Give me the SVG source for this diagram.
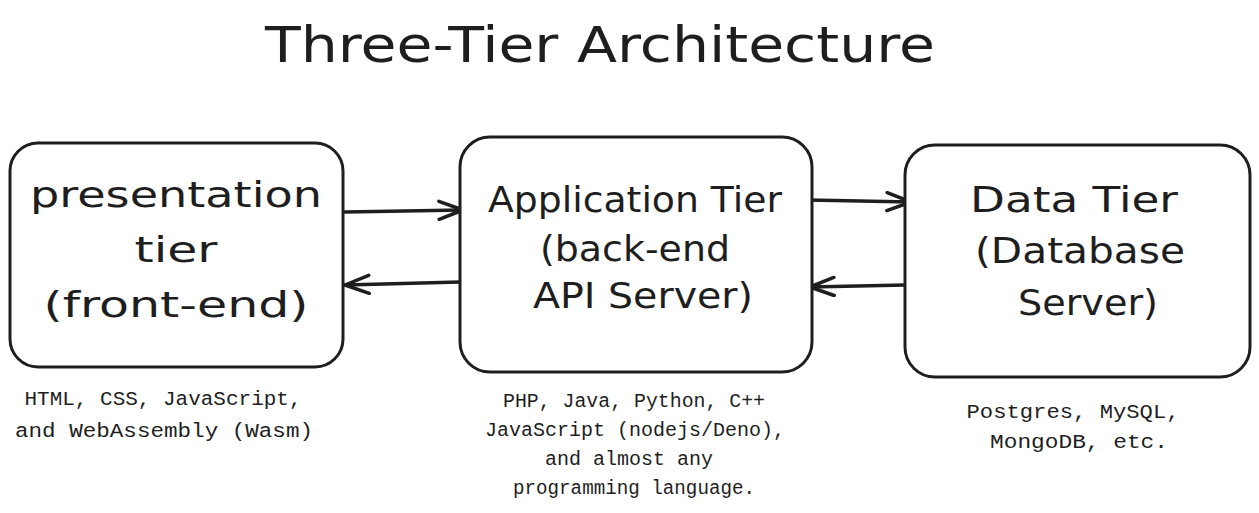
<svg xmlns="http://www.w3.org/2000/svg" width="1259" height="513" viewBox="0 0 1259 513">
  <style>
    .box { fill: #ffffff; stroke: #1e1e1e; stroke-width: 3; }
    .lbl { font-family: "DejaVu Sans", "Liberation Sans", sans-serif; font-size: 36px; fill: #1e1e1e; text-anchor: middle; }
    .title { font-family: "DejaVu Sans", "Liberation Sans", sans-serif; font-size: 50px; fill: #1e1e1e; text-anchor: middle; }
    .note { font-family: "Liberation Mono", "DejaVu Sans Mono", monospace; font-size: 20px; fill: #1e1e1e; text-anchor: middle; }
    .conn { fill: none; stroke: #1e1e1e; stroke-width: 3.5; stroke-linecap: round; }
  </style>
  <defs>
    <marker id="arrow" viewBox="0 0 28 22" refX="26" refY="11" markerWidth="28" markerHeight="22" markerUnits="userSpaceOnUse" orient="auto">
      <path d="M2,2 L26,11 L2,20" fill="none" stroke="#1e1e1e" stroke-width="3.5" stroke-linecap="round" stroke-linejoin="round"/>
    </marker>
  </defs>
  <rect width="1259" height="513" fill="#ffffff"/>

  <text id="title" class="title" x="600" y="62" textLength="670" lengthAdjust="spacingAndGlyphs">Three-Tier Architecture</text>

  <g id="connectors">
    <path class="conn" d="M345,212 L463,210" marker-end="url(#arrow)"/>
    <path class="conn" d="M460,282 L345,285" marker-end="url(#arrow)"/>
    <path class="conn" d="M808,200 L911,202" marker-end="url(#arrow)"/>
    <path class="conn" d="M905,285 L810,287" marker-end="url(#arrow)"/>
  </g>

  <g id="presentation-tier">
    <rect class="box" x="10" y="143" width="333" height="224" rx="28"/>
    <text class="lbl" x="176" y="207" textLength="292" lengthAdjust="spacingAndGlyphs">presentation</text>
    <text class="lbl" x="176" y="262" textLength="83" lengthAdjust="spacingAndGlyphs">tier</text>
    <text class="lbl" x="176" y="317" textLength="265" lengthAdjust="spacingAndGlyphs">(front-end)</text>
  </g>

  <g id="application-tier">
    <rect class="box" x="460" y="137" width="352" height="235" rx="30"/>
    <text class="lbl" x="635" y="212" textLength="294" lengthAdjust="spacingAndGlyphs">Application Tier</text>
    <text class="lbl" x="635" y="261" textLength="190" lengthAdjust="spacingAndGlyphs">(back-end</text>
    <text class="lbl" x="643" y="308" textLength="220" lengthAdjust="spacingAndGlyphs">API Server)</text>
  </g>

  <g id="data-tier">
    <rect class="box" x="905" y="145" width="345" height="232" rx="30"/>
    <text class="lbl" x="1074" y="212" textLength="208" lengthAdjust="spacingAndGlyphs">Data Tier</text>
    <text class="lbl" x="1080" y="263" textLength="210" lengthAdjust="spacingAndGlyphs">(Database</text>
    <text class="lbl" x="1088" y="315" textLength="140" lengthAdjust="spacingAndGlyphs">Server)</text>
  </g>

  <g id="presentation-note">
    <text class="note" x="163" y="405" textLength="277" lengthAdjust="spacingAndGlyphs">HTML, CSS, JavaScript,</text>
    <text class="note" x="164" y="437" textLength="298" lengthAdjust="spacingAndGlyphs">and WebAssembly (Wasm)</text>
  </g>

  <g id="application-note">
    <text class="note" x="634" y="407" textLength="262" lengthAdjust="spacingAndGlyphs">PHP, Java, Python, C++</text>
    <text class="note" x="635" y="436" textLength="300" lengthAdjust="spacingAndGlyphs">JavaScript (nodejs/Deno),</text>
    <text class="note" x="629" y="465" textLength="168" lengthAdjust="spacingAndGlyphs">and almost any</text>
    <text class="note" x="634" y="494" textLength="242" lengthAdjust="spacingAndGlyphs">programming language.</text>
  </g>

  <g id="data-note">
    <text class="note" x="1073" y="418" textLength="213" lengthAdjust="spacingAndGlyphs">Postgres, MySQL,</text>
    <text class="note" x="1079" y="448" textLength="178" lengthAdjust="spacingAndGlyphs">MongoDB, etc.</text>
  </g>
</svg>
